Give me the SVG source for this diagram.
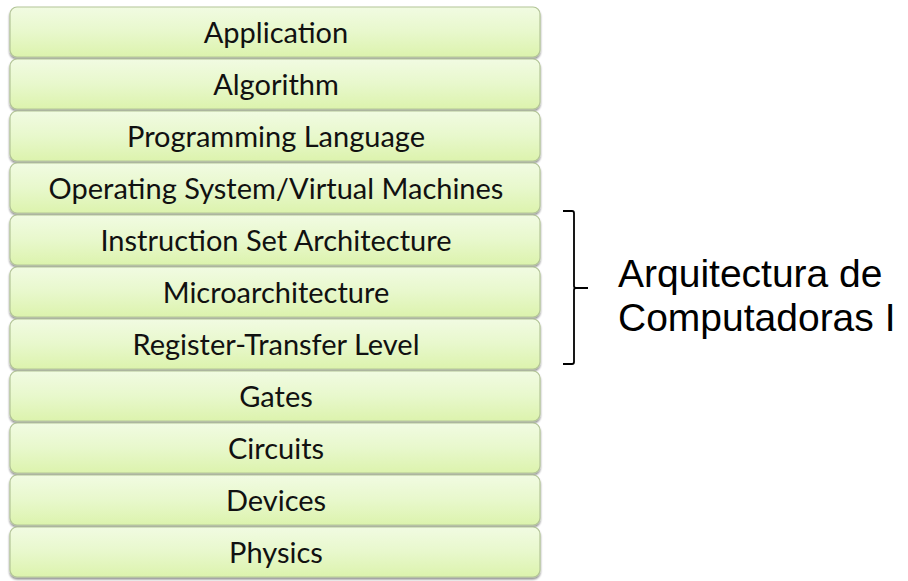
<svg xmlns="http://www.w3.org/2000/svg" width="908" height="581" viewBox="0 0 908 581">
<defs>
<linearGradient id="g" x1="0" y1="0" x2="0" y2="1">
<stop offset="0" stop-color="#f1fbe2"/>
<stop offset="0.5" stop-color="#e8f8cc"/>
<stop offset="1" stop-color="#dcf3ad"/>
</linearGradient>
<filter id="sh" x="-5%" y="-20%" width="110%" height="150%">
<feGaussianBlur in="SourceAlpha" stdDeviation="1.2"/>
<feOffset dx="0" dy="1.5" result="b"/>
<feComponentTransfer><feFuncA type="linear" slope="0.45"/></feComponentTransfer>
<feMerge><feMergeNode/><feMergeNode in="SourceGraphic"/></feMerge>
</filter>
</defs>
<style>
.box{fill:url(#g);stroke:#b3c597;stroke-width:1.2;filter:url(#sh)}
.lbl{font-family:Lato,"Open Sans","Liberation Sans",sans-serif;font-size:29px;fill:#111;text-anchor:middle}
.side{font-family:"Liberation Sans",Arial,sans-serif;font-size:39px;fill:#000}
.br{fill:none;stroke:#000;stroke-width:1.8;stroke-linejoin:round}
</style>
<rect width="908" height="581" fill="#fff"/>
<g id="n1"><rect class="box" x="10" y="7" width="530" height="50" rx="7"/><text class="lbl" x="276" y="43">Application</text></g>
<g id="n2"><rect class="box" x="10" y="59" width="530" height="50" rx="7"/><text class="lbl" x="276" y="95">Algorithm</text></g>
<g id="n3"><rect class="box" x="10" y="111" width="530" height="50" rx="7"/><text class="lbl" x="276" y="147">Programming Language</text></g>
<g id="n4"><rect class="box" x="10" y="163" width="530" height="50" rx="7"/><text class="lbl" x="276" y="199">Operating System/Virtual Machines</text></g>
<g id="n5"><rect class="box" x="10" y="215" width="530" height="50" rx="7"/><text class="lbl" x="276" y="251">Instruction Set Architecture</text></g>
<g id="n6"><rect class="box" x="10" y="267" width="530" height="50" rx="7"/><text class="lbl" x="276" y="303">Microarchitecture</text></g>
<g id="n7"><rect class="box" x="10" y="319" width="530" height="50" rx="7"/><text class="lbl" x="276" y="355">Register-Transfer Level</text></g>
<g id="n8"><rect class="box" x="10" y="371" width="530" height="50" rx="7"/><text class="lbl" x="276" y="407">Gates</text></g>
<g id="n9"><rect class="box" x="10" y="423" width="530" height="50" rx="7"/><text class="lbl" x="276" y="459">Circuits</text></g>
<g id="n10"><rect class="box" x="10" y="475" width="530" height="50" rx="7"/><text class="lbl" x="276" y="511">Devices</text></g>
<g id="n11"><rect class="box" x="10" y="527" width="530" height="50" rx="7"/><text class="lbl" x="276" y="563">Physics</text></g>
<g id="bracket">
<path class="br" d="M563,211 H572 Q574,211 574,213 V286 Q574,288 576,288 H588 M576,288 Q574,288 574,290 V362 Q574,364 572,364 H563"/>
<text class="side" x="618" y="287">Arquitectura de</text>
<text class="side" x="618" y="331">Computadoras I</text>
</g>
</svg>
